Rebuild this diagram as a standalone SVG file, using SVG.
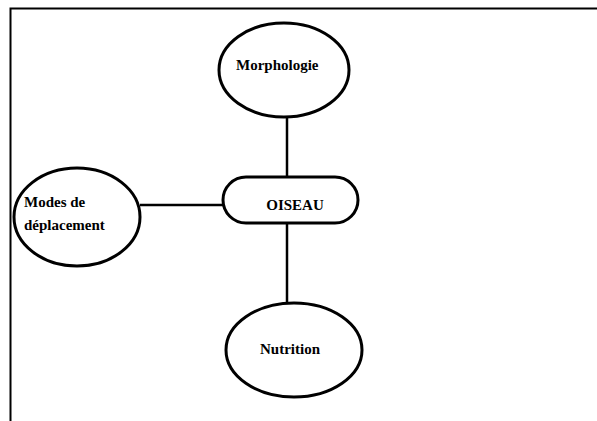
<svg xmlns="http://www.w3.org/2000/svg" width="597" height="421" viewBox="0 0 597 421">
<style>
.n{fill:#fff;stroke:#000;stroke-width:3}
.c{stroke:#000;stroke-width:2.5;fill:none}
.t{font-family:"Liberation Serif",serif;font-size:15px;fill:#000;font-weight:bold}
</style>
<rect width="597" height="421" fill="#fff"/>
<path d="M10.5 421 V8.5 H597" fill="none" stroke="#000" stroke-width="2"/>
<g id="connectors">
<line class="c" x1="287" y1="117" x2="287" y2="177"/>
<line class="c" x1="140" y1="205" x2="223" y2="205"/>
<line class="c" x1="287" y1="223" x2="287" y2="303"/>
</g>
<g id="morphologie">
<ellipse class="n" cx="284" cy="70" rx="65" ry="47"/>
<text class="t" x="236" y="70">Morphologie</text>
</g>
<g id="oiseau">
<rect class="n" x="223" y="177" width="135" height="46" rx="23"/>
<text class="t" x="295" y="210" text-anchor="middle">OISEAU</text>
</g>
<g id="modes">
<ellipse class="n" cx="77" cy="217" rx="63" ry="49"/>
<text class="t" x="24" y="207">Modes de</text>
<text class="t" x="24" y="230">déplacement</text>
</g>
<g id="nutrition">
<ellipse class="n" cx="294" cy="350" rx="68" ry="47"/>
<text class="t" x="290" y="354" text-anchor="middle">Nutrition</text>
</g>
</svg>
